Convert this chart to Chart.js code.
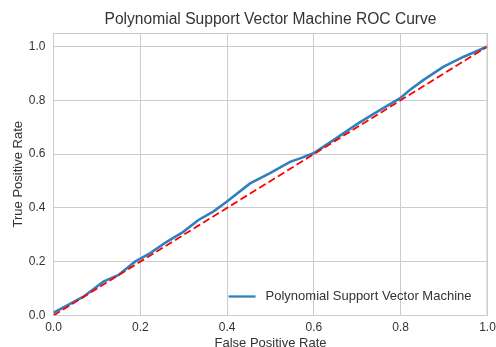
<!DOCTYPE html>
<html>
<head>
<meta charset="utf-8">
<script src="https://cdn.jsdelivr.net/npm/chart.js@4.4.0/dist/chart.umd.min.js"></script>
<style>
  html, body { margin: 0; padding: 0; background: #fff; }
  #wrap { width: 496px; height: 347px; }
</style>
</head>
<body>
<div id="wrap"><canvas id="roc"></canvas></div>
<script>
// values
const fpr = [0, 0.069, 0.115, 0.149, 0.188, 0.222, 0.261, 0.299, 0.334, 0.368, 0.399,
  0.453, 0.499, 0.545, 0.568, 0.599, 0.645, 0.702, 0.752, 0.798, 0.821, 0.852,
  0.898, 0.944, 1.0];
const tpr = [0.01, 0.07, 0.126, 0.15, 0.2, 0.231, 0.274, 0.311, 0.355, 0.386, 0.423,
  0.491, 0.529, 0.571, 0.584, 0.603, 0.652, 0.714, 0.763, 0.807, 0.838, 0.875,
  0.924, 0.961, 1.0];
const diagX = [0, 1];
const diagY = [0, 1];
const tickValues = [0, 0.2, 0.4, 0.6, 0.8, 1.0];

const chartTitle = 'Polynomial Support Vector Machine ROC Curve';
const seriesLabel = 'Polynomial Support Vector Machine';
const blue = '#2f80bf';
const grid = '#cccccc';
const textCol = '#333333';
const fontFam = '"Liberation Sans", Arial, sans-serif';

const rocPoints = fpr.map((x, i) => ({ x: x, y: tpr[i] }));
const diagPoints = diagX.map((x, i) => ({ x: x, y: diagY[i] }));

// title centred over the plot area, like matplotlib does
const axesTitle = {
  id: 'axesTitle',
  afterDraw(chart) {
    const { ctx, chartArea } = chart;
    ctx.save();
    ctx.font = '15.6px ' + fontFam;
    ctx.fillStyle = textCol;
    ctx.textAlign = 'center';
    ctx.textBaseline = 'middle';
    ctx.fillText(chartTitle, (chartArea.left + chartArea.right) / 2, 20);
    ctx.restore();
  }
};

// legend drawn inside the plot area, bottom right
const insideLegend = {
  id: 'insideLegend',
  afterDatasetsDraw(chart) {
    const { ctx, chartArea } = chart;
    ctx.save();
    ctx.font = '13px ' + fontFam;
    const tw = ctx.measureText(seriesLabel).width;
    const yMid = chartArea.bottom - 19;
    const xEnd = chartArea.right - 16;
    const xText = xEnd - tw;
    ctx.strokeStyle = blue;
    ctx.lineWidth = 2.3;
    ctx.beginPath();
    ctx.moveTo(xText - 37, yMid);
    ctx.lineTo(xText - 10, yMid);
    ctx.stroke();
    ctx.fillStyle = textCol;
    ctx.textBaseline = 'middle';
    ctx.fillText(seriesLabel, xText, yMid);
    ctx.restore();
  }
};

const frame = {
  id: 'frame',
  afterDraw(chart) {
    const { ctx, chartArea } = chart;
    ctx.save();
    ctx.strokeStyle = grid;
    ctx.lineWidth = 1;
    ctx.beginPath();
    ctx.moveTo(chartArea.left, chartArea.top + 0.5);
    ctx.lineTo(chartArea.right, chartArea.top + 0.5);
    ctx.moveTo(chartArea.right - 0.5, chartArea.top);
    ctx.lineTo(chartArea.right - 0.5, chartArea.bottom);
    ctx.stroke();
    ctx.restore();
  }
};

const axisTicks = (axis) => {
  axis.ticks = tickValues.map(v => ({ value: v }));
};

new Chart(document.getElementById('roc'), {
  type: 'scatter',
  data: {
    datasets: [
      {
        label: seriesLabel,
        data: rocPoints,
        showLine: true,
        borderColor: blue,
        borderWidth: 2.6,
        pointRadius: 0,
        tension: 0,
        order: 2
      },
      {
        label: 'diagonal',
        data: diagPoints,
        showLine: true,
        borderColor: '#ff0000',
        borderWidth: 1.8,
        borderDash: [7.5, 3.5],
        pointRadius: 0,
        order: 1
      }
    ]
  },
  options: {
    responsive: true,
    maintainAspectRatio: false,
    animation: false,
    layout: { padding: { left: 0, right: 8.5, top: 33, bottom: 0 } },
    plugins: {
      legend: { display: false },
      tooltip: { enabled: false },
      title: { display: false }
    },
    scales: {
      x: {
        type: 'linear',
        min: 0,
        max: 1,
        afterBuildTicks: axisTicks,
        afterFit: (s) => { s.height = 31.5; s.paddingLeft = 0; s.paddingRight = 0; },
        grid: { color: grid, drawTicks: false, lineWidth: 1 },
        border: { color: grid, width: 1 },
        ticks: {
          color: textCol,
          font: { family: fontFam, size: 12 },
          padding: 5,
          maxRotation: 0,
          callback: v => v.toFixed(1)
        },
        title: {
          display: true,
          text: 'False Positive Rate',
          color: textCol,
          font: { family: fontFam, size: 13, lineHeight: 0.6 },
          padding: { top: 0, bottom: 0 }
        }
      },
      y: {
        type: 'linear',
        min: 0,
        max: 1.05,
        afterBuildTicks: axisTicks,
        afterFit: (s) => { s.width = 53.5; s.paddingTop = 0; s.paddingBottom = 0; },
        grid: { color: grid, drawTicks: false, lineWidth: 1 },
        border: { color: grid, width: 1 },
        ticks: {
          color: textCol,
          font: { family: fontFam, size: 12 },
          padding: 8,
          callback: v => v.toFixed(1)
        },
        title: {
          display: true,
          text: 'True Positive Rate',
          color: textCol,
          font: { family: fontFam, size: 13 },
          padding: { top: 11, bottom: 0 }
        }
      }
    }
  },
  plugins: [axesTitle, insideLegend, frame]
});
</script>
</body>
</html>
